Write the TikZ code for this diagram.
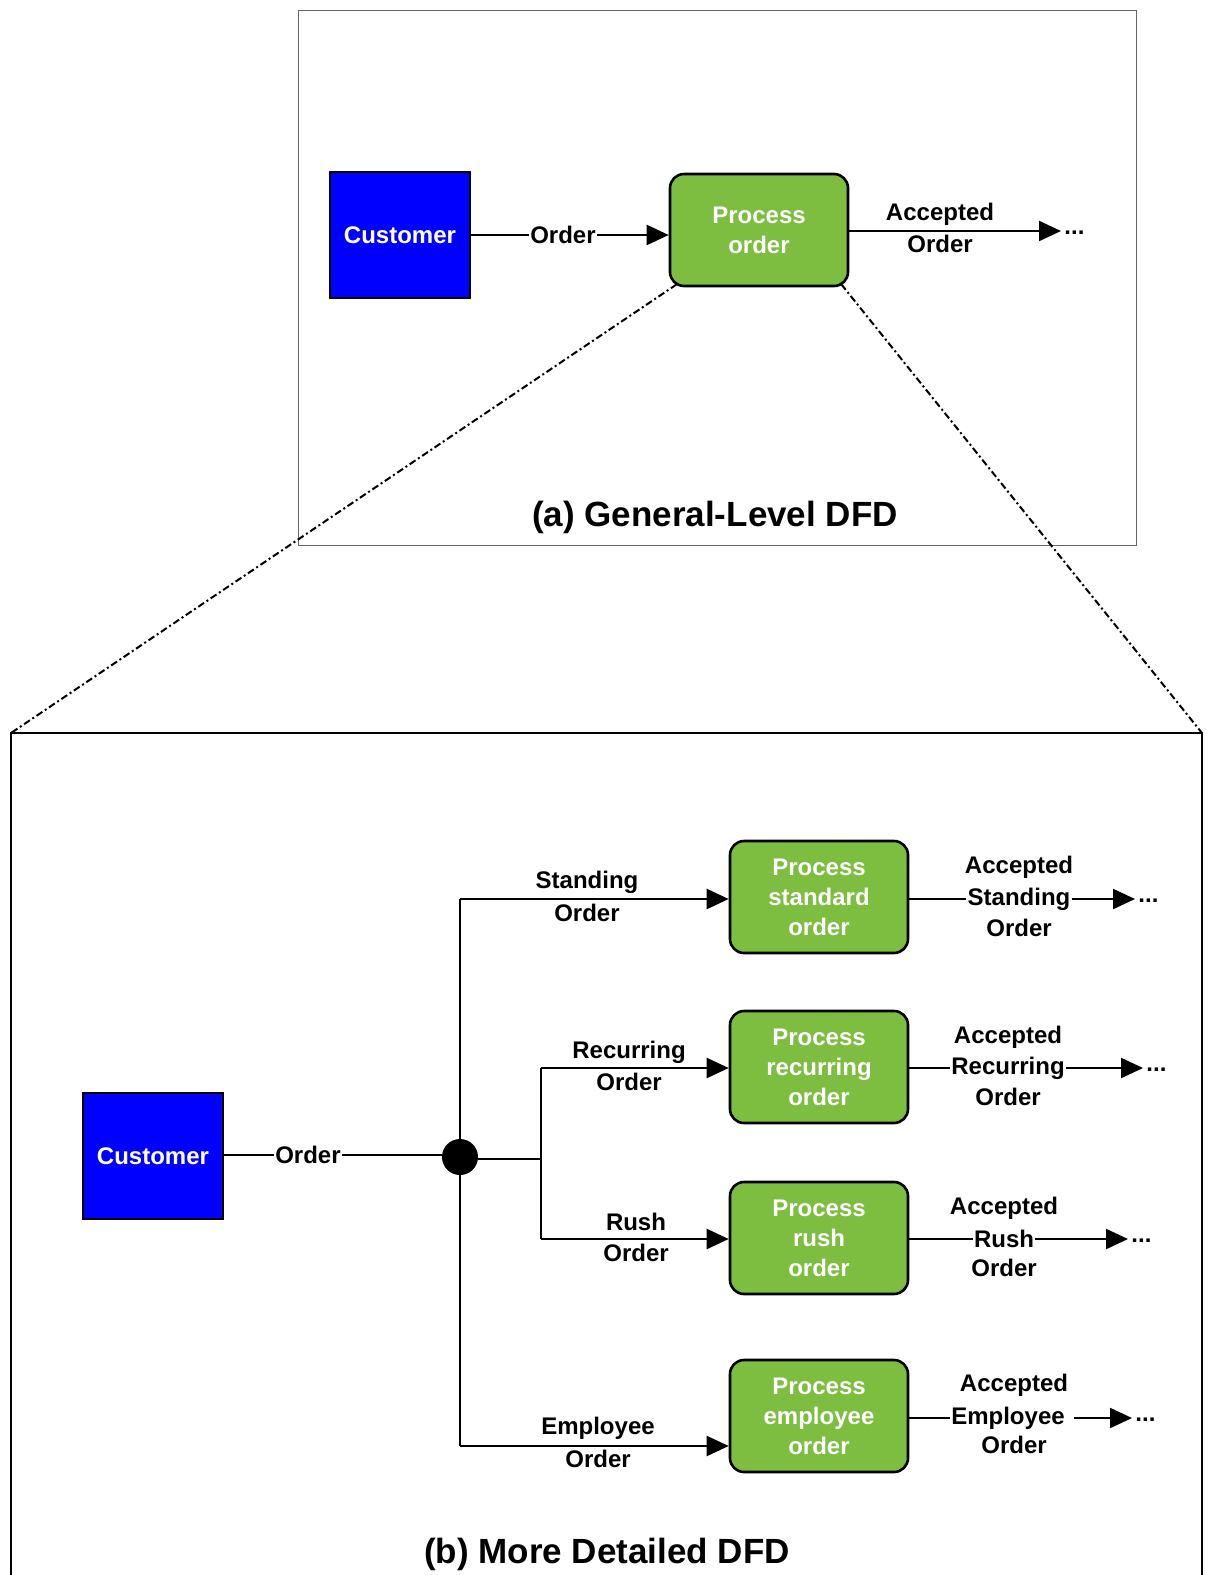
\documentclass[tikz,border=0pt]{standalone}
\usepackage{fontspec}
\setmainfont{Liberation Sans}
\usetikzlibrary{arrows.meta}
\definecolor{custblue}{RGB}{0,0,255}
\definecolor{procgreen}{RGB}{125,190,65}
\begin{document}
\begin{tikzpicture}[x=0.5pt,y=-0.5pt,
  font=\fontsize{12}{15}\selectfont\bfseries,
  entity/.style={draw=black,line width=1.3pt,fill=custblue,text=white,
    minimum width=70pt,minimum height=63pt,inner sep=0pt},
  proc/.style={draw=black,line width=1.3pt,fill=procgreen,text=white,
    rounded corners=7pt,minimum width=89pt,minimum height=56pt,
    align=center,inner sep=0pt},
  wire/.style={line width=1.1pt},
  flow/.style={wire,-{Triangle[length=11pt,width=10pt]}},
  lbl/.style={inner sep=0.5pt,text=black,align=center},
  onwire/.style={lbl,fill=white},
  dotsnode/.style={lbl,anchor=west,inner sep=0pt,xshift=1.5pt,yshift=-1pt},
  zoomline/.style={line width=1pt,dash pattern=on 3.5pt off 1.5pt on 1pt off 1.5pt},
  ttl/.style={font=\fontsize{17.5}{21}\selectfont\bfseries}
]
\useasboundingbox (0,0) rectangle (1209,1575);

% ---------- (a) general level ----------
\draw[black!60,line width=0.5pt] (298,10) rectangle (1136,545);

\node[entity] (cust1) at (400,235) {Customer};
\node[proc] (proc1) at (759,230) {Process\\order};

\node[onwire] (ord1) at (563,235) {Order};
\draw[wire] (cust1.east |- ord1) -- (ord1.west);
\draw[flow] (ord1.east) -- (proc1.west |- ord1);

\coordinate (tip1) at (1061,231);
\node[lbl] (acc1a) at (940,214) {Accepted};
\node[lbl] (acc1b) at (940,244) {Order};
\draw[flow] (proc1.east |- tip1) -- (tip1);
\node[dotsnode] (dots1) at (tip1) {...};

\node[ttl] (titleA) at (715,517) {(a) General-Level DFD};

% ---------- zoom lines and frame of (b) ----------
\coordinate (frameBL) at (11,733);
\coordinate (frameBR) at (1202,733);
\draw[zoomline] ([shift={(8,-3)}]proc1.south west) -- (frameBL);
\draw[zoomline] ([shift={(-8,-3)}]proc1.south east) -- (frameBR);
\draw[line width=1.2pt] (11,1580) -- (frameBL) -- (frameBR) -- (1202,1580);

% ---------- (b) more detailed ----------
\node[entity] (cust2) at (153,1156) {Customer};
\node[circle,fill=black,minimum size=18pt,inner sep=0pt] (junc) at (460,1157) {};
\node[onwire] (ord2) at (308,1155) {Order};
\draw[wire] (cust2.east |- ord2) -- (ord2.west);
\draw[wire] (ord2.east) -- (junc.west |- ord2);

\coordinate (trunkTop) at (460,899);
\coordinate (trunkBot) at (460,1446);
\coordinate (splitMid) at (541,1159);
\coordinate (splitTop) at (541,1068);
\coordinate (splitBot) at (541,1239);
\draw[wire] (trunkTop) -- (trunkBot);
\draw[wire] (junc.east |- splitMid) -- (splitMid);
\draw[wire] (splitTop) -- (splitBot);

\node[proc] (pStd)  at (819,897)  {Process\\standard\\order};
\node[proc] (pRec)  at (819,1067) {Process\\recurring\\order};
\node[proc] (pRush) at (819,1238) {Process\\rush\\order};
\node[proc] (pEmp)  at (819,1416) {Process\\employee\\order};

\draw[flow] (trunkTop) -- (pStd.west |- trunkTop);
\draw[flow] (splitTop) -- (pRec.west |- splitTop);
\draw[flow] (splitBot) -- (pRush.west |- splitBot);
\draw[flow] (trunkBot) -- (pEmp.west |- trunkBot);

\node[lbl] (inStdA)  at (587,882)  {Standing};
\node[lbl] (inStdB)  at (587,913)  {Order};
\node[lbl] (inRecA)  at (629,1052) {Recurring};
\node[lbl] (inRecB)  at (629,1082) {Order};
\node[lbl] (inRushA) at (636,1222) {Rush};
\node[lbl] (inRushB) at (636,1253) {Order};
\node[lbl] (inEmpA)  at (598,1428) {Employee};
\node[lbl] (inEmpB)  at (598,1459) {Order};

% outgoing flows
\coordinate (tipStd)  at (1135,899);
\coordinate (tipRec)  at (1143,1068);
\coordinate (tipRush) at (1128,1239);
\coordinate (tipEmp)  at (1132,1418);

\node[lbl]    (outStdA)  at (1019,867)  {Accepted};
\node[onwire] (outStdB)  at (1019,899)  {Standing};
\node[lbl]    (outStdC)  at (1019,928)  {Order};
\draw[wire] (pStd.east |- tipStd) -- (outStdB.west);
\draw[flow] (outStdB.east) -- (tipStd);
\node[dotsnode] (dotsStd) at (tipStd) {...};

\node[lbl]    (outRecA)  at (1008,1037) {Accepted};
\node[onwire] (outRecB)  at (1008,1068) {Recurring};
\node[lbl]    (outRecC)  at (1008,1097) {Order};
\draw[wire] (pRec.east |- tipRec) -- (outRecB.west);
\draw[flow] (outRecB.east) -- (tipRec);
\node[dotsnode] (dotsRec) at (tipRec) {...};

\node[lbl]    (outRushA) at (1004,1208) {Accepted};
\node[onwire] (outRushB) at (1004,1239) {Rush};
\node[lbl]    (outRushC) at (1004,1268) {Order};
\draw[wire] (pRush.east |- tipRush) -- (outRushB.west);
\draw[flow] (outRushB.east) -- (tipRush);
\node[dotsnode] (dotsRush) at (tipRush) {...};

\node[lbl]    (outEmpA)  at (1014,1385) {Accepted};
\node[onwire] (outEmpB)  at (1012,1418) {Employee\hspace{4pt}};
\node[lbl]    (outEmpC)  at (1014,1445) {Order};
\draw[wire] (pEmp.east |- tipEmp) -- (outEmpB.west);
\draw[flow] (outEmpB.east) -- (tipEmp);
\node[dotsnode] (dotsEmp) at (tipEmp) {...};

\node[ttl] (titleB) at (607,1554) {(b) More Detailed DFD};
\end{tikzpicture}
\end{document}
